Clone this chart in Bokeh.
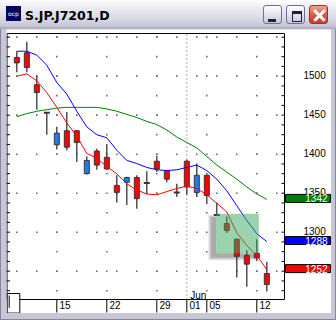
from bokeh.plotting import figure
from bokeh.models import Range1d, Div
from bokeh.layouts import column
from bokeh.embed import file_html
from bokeh.resources import INLINE
from bokeh.core.properties import value

# ---------------- data ----------------
title_text = "S.JP.J7201,D"
dates = ["2006-05-09", "2006-05-10", "2006-05-11", "2006-05-12", "2006-05-15", "2006-05-16",
         "2006-05-17", "2006-05-18", "2006-05-19", "2006-05-22", "2006-05-23", "2006-05-24",
         "2006-05-25", "2006-05-26", "2006-05-29", "2006-05-30", "2006-05-31", "2006-06-01",
         "2006-06-02", "2006-06-05", "2006-06-06", "2006-06-07", "2006-06-08", "2006-06-09",
         "2006-06-12", "2006-06-13"]
opens  = [1524, 1530, 1489, 1453, 1412, 1430, 1430, 1375, 1404, 1396, 1360, 1364, 1370,
          1363, 1391, 1379, 1351, 1391, 1351, 1373, 1322, 1311, 1291, 1270, 1273, 1247]
highs  = [1532, 1544, 1501, 1454, 1435, 1454, 1431, 1397, 1407, 1413, 1373, 1371, 1373,
          1378, 1398, 1380, 1362, 1393, 1388, 1374, 1338, 1320, 1292, 1277, 1291, 1262]
lows   = [1505, 1505, 1457, 1425, 1406, 1405, 1390, 1374, 1380, 1380, 1338, 1335, 1330,
          1349, 1377, 1364, 1345, 1348, 1345, 1336, 1322, 1299, 1242, 1230, 1263, 1224]
closes = [1517, 1511, 1479, 1453, 1427, 1409, 1415, 1392, 1386, 1381, 1351, 1370, 1343,
          1363, 1381, 1368, 1351, 1358, 1373, 1347, 1322, 1302, 1269, 1259, 1267, 1233]
ma_red   = [1500, 1503, 1494, 1479, 1460, 1440, 1423, 1401, 1395, 1384, 1375, 1362, 1354,
            1349, 1348, 1352, 1356, 1359, 1356, 1348, 1337, 1326, 1299, 1283, 1270, 1252]
ma_blue  = [1532, 1532, 1527, 1514, 1492, 1477, 1455, 1435, 1425, 1421, 1405, 1392, 1388,
            1383, 1380, 1379, 1380, 1383, 1386, 1379, 1368, 1353, 1334, 1315, 1298, 1288]
ma_green = [1448, 1452, 1455, 1457, 1459, 1460, 1460, 1460, 1460, 1458, 1455, 1451, 1447,
            1442, 1438, 1431, 1422, 1415, 1408, 1397, 1386, 1377, 1368, 1358, 1349, 1342]
tick_idx    = [4, 9, 14, 17, 19, 24]
tick_labels = ["15", "22", "29", "01", "05", "12"]
week_idx    = [4, 9, 14, 19, 24]
month_idx   = 17
month_label = "Jun"
price_ticks = [1300, 1350, 1400, 1450, 1500]
# highlighted pattern box: day-index span and price span
hl_left, hl_right, hl_bottom, hl_top = 19.95, 24.2, 1273, 1323.6

# ---------------- geometry / styling ----------------
FONT = "Liberation Sans"
XPP = 0.1                  # day-index units per pixel
UPP = 341.0 / 266.0        # price units per pixel
XL, XR = -1.03, 26.77      # chart area (left / right edge)
YB, YT = 1213.7, 1554.7    # chart area (bottom / top edge)
BODY = "#363636"
DOT = "#6e6e6e"

n = len(opens)
idx = list(range(n))

p = figure(width=325, height=284,
           x_range=Range1d(XL, XL + 325 * XPP), y_range=Range1d(YB - 14 * UPP, YT + 4 * UPP),
           x_axis_location=None, y_axis_location=None, toolbar_location=None,
           output_backend="svg", min_border=0,
           background_fill_color="white", border_fill_color="white",
           outline_line_color=None)
p.grid.visible = False
p.margin = (0, 5, 7, 6)

# grid of dots
major_rows = list(range(1250, 1551, 50))
minor_rows = [1225 + 25 * k for k in range(14)]
gx = [i for i in range(0, 27, 2) for _ in major_rows]
gy = [r for _ in range(0, 27, 2) for r in major_rows]
p.scatter(gx, gy, marker="square", size=1.6, fill_color=DOT, line_color=None)
vx = [w for w in week_idx for _ in minor_rows]
vy = [r for _ in week_idx for r in minor_rows]
p.scatter(vx, vy, marker="square", size=1.6, fill_color=DOT, line_color=None)
p.segment(x0=[month_idx], x1=[month_idx], y0=[YB], y1=[YT], line_color="#555555",
          line_width=1, line_dash="1 3")

# shadow of highlight box
for k in range(4):
    p.quad(left=hl_left - 5 * XPP - k * XPP, right=hl_right - 5 * XPP + k * XPP,
           bottom=hl_bottom - 4 * UPP - k * UPP, top=hl_top - 4 * UPP + k * UPP,
           fill_color="#303030", fill_alpha=0.12, line_color=None)
p.quad(left=hl_left, right=hl_right, bottom=hl_bottom, top=hl_top,
       fill_color="white", line_color=None)

# candles
p.segment(x0=idx, x1=idx, y0=lows, y1=highs, line_color=BODY, line_width=1.3)
bi = [i for i in idx if opens[i] != closes[i]]
btop = [max(opens[i], closes[i]) for i in bi]
bbot = [min(opens[i], closes[i]) for i in bi]
bcol = ["#1a7cff" if closes[i] > opens[i] else "#ff0000" for i in bi]
p.vbar(x=bi, width=0.5, top=btop, bottom=bbot, fill_color=bcol, line_color=BODY, line_width=1)
di = [i for i in idx if opens[i] == closes[i]]
p.segment(x0=[i - 0.3 for i in di], x1=[i + 0.3 for i in di], y0=[closes[i] for i in di],
          y1=[closes[i] for i in di], line_color=BODY, line_width=2)

# moving averages
p.line(idx, ma_green, line_color="#008000", line_width=1)
p.line(idx, ma_blue, line_color="#0000ff", line_width=1)
p.line(idx, ma_red, line_color="#ff0000", line_width=1)

# highlight box
p.quad(left=hl_left, right=hl_right, bottom=hl_bottom, top=hl_top,
       fill_color="#3aa860", fill_alpha=0.5, line_color=None)

# chart border
p.quad(left=XL + 0.5 * XPP, right=XR, bottom=YB, top=YT,
       fill_color=None, line_color="black", line_width=1)

# inner ticks on left and right edges
minor_levels = [1225 + 12.5 * k for k in range(27)]
p.segment(x0=[XL] * len(minor_levels), x1=[XL + 3.5 * XPP] * len(minor_levels),
          y0=minor_levels, y1=minor_levels, line_color="black", line_width=1)
p.segment(x0=[XR - 3 * XPP] * len(minor_levels), x1=[XR] * len(minor_levels),
          y0=minor_levels, y1=minor_levels, line_color="black", line_width=1)

# month label
p.text(x=[month_idx], y=[YB - 1.0 * UPP], text=[month_label], x_offset=3.5,
       text_font=value(FONT), text_font_size="10px", text_color="black",
       text_baseline="bottom", text_align="left")

# price labels on the right
p.text(x=[XR] * len(price_ticks), y=[t + 1.5 * UPP for t in price_ticks],
       text=[str(t) for t in price_ticks], x_offset=19,
       text_font=value(FONT), text_font_size="10px", text_color="black",
       text_baseline="middle", text_align="left")

# date axis: ticks and labels
p.segment(x0=tick_idx, x1=tick_idx, y0=[YB] * len(tick_idx),
          y1=[YB - 13 * UPP] * len(tick_idx), line_color="black", line_width=1)
p.text(x=tick_idx, y=[YB - 1.8 * UPP] * len(tick_idx), text=tick_labels, x_offset=2.6,
       text_font=value(FONT), text_font_size="10px", text_color="black",
       text_baseline="top", text_align="left")

# last-value boxes
last_vals = [ma_green[-1], ma_blue[-1], ma_red[-1]]
box_cols = ["#008000", "#0000ff", "#ff0000"]
p.quad(left=[XR + 1 * XPP] * 3, right=[XR + 46 * XPP] * 3,
       bottom=[v - 3 * UPP for v in last_vals], top=[v + 5 * UPP for v in last_vals],
       fill_color=box_cols, line_color="black", line_width=1)
p.text(x=[XR + 43 * XPP] * 3, y=[v + 1 * UPP for v in last_vals],
       text=[str(v) for v in last_vals],
       text_font=value(FONT), text_font_size="10px", text_color="white",
       text_baseline="middle", text_align="right")

# scroll thumb at bottom-left
p.quad(left=[XL + 0.7 * XPP], right=[XL + 13.3 * XPP], bottom=[YB - 13.6 * UPP],
       top=[YB + 6 * UPP], fill_color="white", line_color="black", line_width=1)
p.segment(x0=[XL + 2.7 * XPP], x1=[XL + 2.7 * XPP], y0=[YB - 8.3 * UPP], y1=[YB + 4 * UPP],
          line_color="black", line_width=1)

# ---------------- window title bar ----------------
btn = ("position:absolute;top:5px;width:19px;height:19px;border:1px solid #6f6f8f;"
       "border-radius:3px;background:linear-gradient(to bottom,#ffffff,#e6e6ef 45%,#c6c6d8);")
title_html = f"""
<div style="position:relative;width:336px;height:29px;overflow:hidden;
background:linear-gradient(to bottom,#fdfdfe 0%,#ececf2 25%,#dcdce6 60%,#c8c8d6 88%,#a8a8bc 100%);">
 <div style="position:absolute;left:6px;top:6px;width:15px;height:15px;background:#06065e;
  color:#ffffff;font-family:'DejaVu Sans';font-size:6px;line-height:15px;text-align:center;">ocp</div>
 <div style="position:absolute;left:25px;top:8px;font-family:'DejaVu Sans';font-weight:bold;
  font-size:12.5px;line-height:15px;color:#000000;white-space:nowrap;">{title_text}</div>
 <div style="{btn}left:263px;">
  <div style="position:absolute;left:4px;top:13px;width:8px;height:3px;background:#1e1e3c;"></div>
 </div>
 <div style="{btn}left:286px;">
  <div style="position:absolute;left:5px;top:5px;width:10px;height:11px;box-sizing:border-box;
   border:1.5px solid #1e1e3c;border-top-width:3px;"></div>
 </div>
 <div style="position:absolute;top:5px;left:309px;width:19px;height:19px;border:1px solid #8c3a30;
  border-radius:3px;background:linear-gradient(to bottom,#f4a494,#de604c 45%,#c8402c);">
  <div style="position:absolute;left:2px;top:8px;width:15px;height:2.6px;background:#ffffff;
   transform:rotate(45deg);"></div>
  <div style="position:absolute;left:2px;top:8px;width:15px;height:2.6px;background:#ffffff;
   transform:rotate(-45deg);"></div>
 </div>
</div>
"""
title = Div(text=title_html, width=336, height=29, margin=(0, 0, 0, 0))

root = column(title, p, spacing=0, margin=(0, 0, 0, 0),
              styles={"background-color": "#c6c6d4",
                      "box-shadow": "inset 1px 0 0 #85859a, inset -1px 0 0 #85859a, inset 0 -1px 0 #85859a"})

open("out.html", "w").write(file_html(root, INLINE))
